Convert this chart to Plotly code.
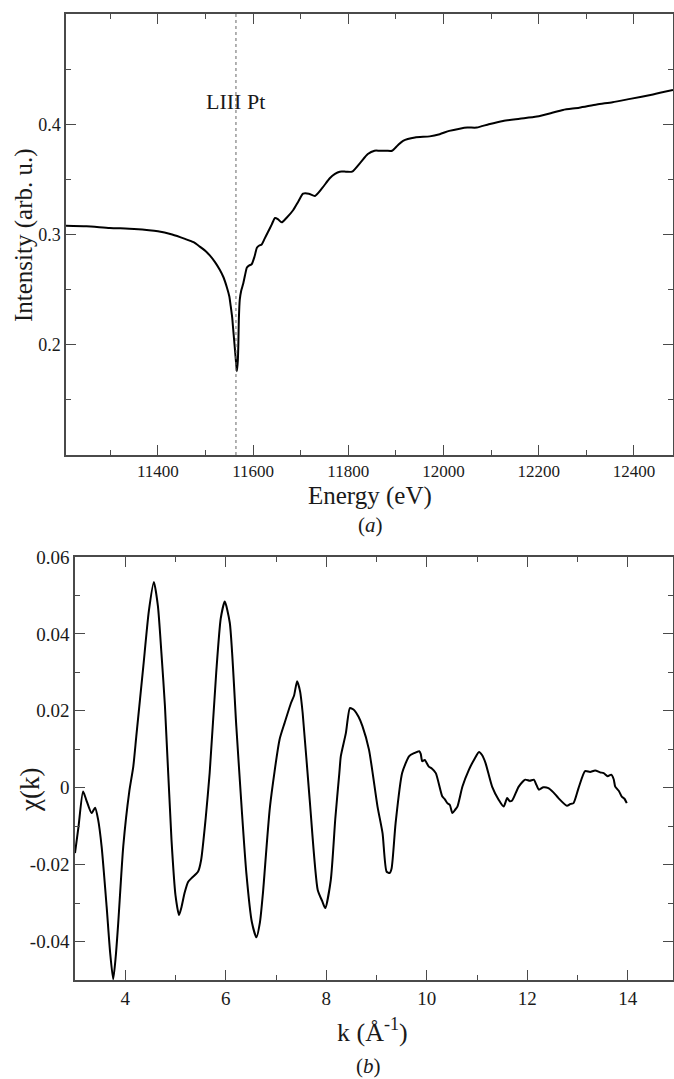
import plotly.graph_objects as go

# ---------------- data ----------------
# Panel (a): XANES spectrum around the Pt L3 edge
energy_eV = [11207, 11250, 11299, 11350, 11400, 11430, 11457, 11475, 11488, 11500,
             11509, 11520, 11530, 11538, 11545, 11550, 11553, 11556, 11558, 11560,
             11562, 11564, 11566, 11568, 11569, 11570, 11572, 11575, 11579, 11583,
             11587, 11592, 11597, 11603, 11608, 11613, 11618, 11624, 11631, 11639,
             11646, 11652, 11660, 11670, 11684, 11695, 11705, 11717, 11730, 11745,
             11761, 11772, 11782, 11795, 11808, 11825, 11841, 11855, 11866, 11880,
             11892, 11904, 11915, 11940, 11971, 11992, 12012, 12034, 12050, 12070,
             12095, 12125, 12160, 12196, 12225, 12251, 12285, 12322, 12355, 12392,
             12440, 12482]
intensity = [0.308, 0.3075, 0.306, 0.305, 0.303, 0.300, 0.296, 0.293, 0.289, 0.285,
             0.281, 0.275, 0.268, 0.261, 0.252, 0.244, 0.235, 0.225, 0.215, 0.205,
             0.195, 0.185, 0.176, 0.186, 0.200, 0.222, 0.241, 0.249, 0.255, 0.263,
             0.270, 0.272, 0.273, 0.280, 0.288, 0.290, 0.291, 0.296, 0.302, 0.309,
             0.315, 0.314, 0.311, 0.315, 0.322, 0.330, 0.337, 0.337, 0.335, 0.342,
             0.351, 0.355, 0.357, 0.357, 0.357, 0.365, 0.373, 0.376, 0.376, 0.376,
             0.376, 0.381, 0.385, 0.388, 0.389, 0.391, 0.394, 0.396, 0.397, 0.397,
             0.400, 0.403, 0.405, 0.407, 0.410, 0.413, 0.415, 0.418, 0.420, 0.423,
             0.427, 0.431]
edge_energy = 11564
edge_label = "LIII Pt"
edge_label_y = 0.421

# Panel (b): EXAFS oscillations chi(k)
k_inv_A = [3.00, 3.07, 3.16, 3.22, 3.33, 3.40, 3.46, 3.53, 3.63, 3.70, 3.76, 3.81,
           3.86, 3.96, 4.08, 4.16, 4.22, 4.36, 4.47, 4.57, 4.65, 4.72, 4.79, 4.92,
           5.00, 5.07, 5.12, 5.18, 5.25, 5.32, 5.45, 5.51, 5.60, 5.68, 5.81, 5.90,
           5.98, 6.08, 6.21, 6.32, 6.41, 6.52, 6.61, 6.68, 6.74, 6.88, 7.07, 7.17,
           7.30, 7.36, 7.42, 7.48, 7.53, 7.67, 7.83, 7.92, 7.98, 8.09, 8.18, 8.26,
           8.29, 8.39, 8.47, 8.52, 8.56, 8.64, 8.72, 8.85, 9.02, 9.12, 9.20, 9.26,
           9.30, 9.38, 9.51, 9.65, 9.75, 9.85, 9.88, 9.91, 9.96, 10.04, 10.10, 10.18,
           10.31, 10.36, 10.41, 10.46, 10.51, 10.56, 10.61, 10.71, 10.84, 10.95, 11.04,
           11.10, 11.17, 11.30, 11.43, 11.53, 11.60, 11.65, 11.70, 11.83, 11.96,
           12.05, 12.13, 12.18, 12.23, 12.32, 12.42, 12.52, 12.62, 12.79, 12.86,
           12.92, 13.02, 13.15, 13.25, 13.35, 13.45, 13.52, 13.60, 13.67, 13.72,
           13.75, 13.82, 13.88, 13.93, 13.98]
chi_k = [-0.0170, -0.0101, -0.0010, -0.0030, -0.0066, -0.0052, -0.0083, -0.0153,
         -0.0310, -0.0430, -0.0498, -0.0440, -0.0352, -0.0153, -0.0010, 0.0055,
         0.0134, 0.0316, 0.0460, 0.0535, 0.0472, 0.0350, 0.0212, -0.0135, -0.0280,
         -0.0331, -0.0310, -0.0274, -0.0245, -0.0235, -0.0218, -0.0188, -0.0080,
         0.0039, 0.0299, 0.0440, 0.0484, 0.0429, 0.0160, -0.0060, -0.0222, -0.0350,
         -0.0389, -0.0350, -0.0274, -0.0049, 0.0125, 0.0168, 0.0221, 0.0240,
         0.0277, 0.0250, 0.0195, -0.0031, -0.0266, -0.0295, -0.0313, -0.0240,
         -0.0080, 0.0038, 0.0082, 0.0142, 0.0207, 0.0205, 0.0201, 0.0185, 0.0160,
         0.0099, -0.0049, -0.0118, -0.0218, -0.0222, -0.0210, -0.0092, 0.0038,
         0.0082, 0.0090, 0.0095, 0.0088, 0.0069, 0.0072, 0.0055, 0.0050, 0.0038,
         -0.0023, -0.0030, -0.0040, -0.0045, -0.0066, -0.0058, -0.0049, 0.0003,
         0.0047, 0.0075, 0.0093, 0.0085, 0.0064, 0.0003, -0.0031, -0.0049, -0.0027,
         -0.0035, -0.0033, 0.0003, 0.0021, 0.0018, 0.0021, 0.0008, -0.0005,
         0.0001, -0.0001, -0.0012, -0.0027, -0.0047, -0.0042, -0.0040, -0.0001,
         0.0043, 0.0041, 0.0045, 0.0040, 0.0038, 0.0030, 0.0034, 0.0022, 0.0003,
         -0.0008, -0.0023, -0.0028, -0.0040]

# tick labels
a_xticks = [11400, 11600, 11800, 12000, 12200, 12400]
a_xticklabels = ["11400", "11600", "11800", "12000", "12200", "12400"]
a_yticks = [0.2, 0.3, 0.4]
a_yticklabels = ["0.2", "0.3", "0.4"]
b_xticks = [4, 6, 8, 10, 12, 14]
b_xticklabels = ["4", "6", "8", "10", "12", "14"]
b_yticks = [0.06, 0.04, 0.02, 0.0, -0.02, -0.04]
b_yticklabels = ["0.06", "0.04", "0.02", "0", "-0.02", "-0.04"]

# ---------------- figure ----------------
W, H = 674, 1079
SERIF = "Liberation Serif"
AX = "#4a4a4a"
TXT = "#1a1a1a"

fig = go.Figure()
fig.add_trace(go.Scatter(x=energy_eV, y=intensity, mode="lines",
                         line=dict(color="black", width=2, shape="spline", smoothing=0.6),
                         xaxis="x", yaxis="y", hoverinfo="skip"))
fig.add_trace(go.Scatter(x=k_inv_A, y=chi_k, mode="lines",
                         line=dict(color="black", width=2, shape="spline", smoothing=0.6),
                         xaxis="x2", yaxis="y2", hoverinfo="skip"))

def axis_style(fs):
    return dict(showgrid=False, zeroline=False, showline=True, linecolor=AX, linewidth=1.5,
                mirror="ticks", ticks="inside", ticklen=10, tickwidth=1.3, tickcolor=AX,
                tickfont=dict(family=SERIF, size=fs, color=TXT))

def minor(dt, t0):
    return dict(ticks="inside", ticklen=5, tickwidth=1.3, tickcolor=AX,
                dtick=dt, tick0=t0, showgrid=False)

fig.update_layout(
    width=W, height=H, margin=dict(l=0, r=0, t=0, b=0, autoexpand=False),
    paper_bgcolor="white", plot_bgcolor="white", showlegend=False,
    font=dict(family=SERIF, size=17, color=TXT),
    xaxis=dict(domain=[66 / W, 673 / W], anchor="y", range=[11207, 12482],
               tickmode="array", tickvals=a_xticks, ticktext=a_xticklabels,
               minor=minor(100, 11200), **axis_style(17)),
    yaxis=dict(domain=[1 - 455 / H, 1 - 14 / H], anchor="x", range=[0.1, 0.5],
               tickmode="array", tickvals=a_yticks, ticktext=a_yticklabels,
               minor=minor(0.05, 0.1), **axis_style(18)),
    xaxis2=dict(domain=[75 / W, 673 / W], anchor="y2", range=[3, 14.9],
                tickmode="array", tickvals=b_xticks, ticktext=b_xticklabels,
                minor=minor(1, 3), **axis_style(19)),
    yaxis2=dict(domain=[1 - 980 / H, 1 - 557 / H], anchor="x2", range=[-0.05, 0.06],
                tickmode="array", tickvals=b_yticks, ticktext=b_yticklabels,
                minor=minor(0.01, 0), **axis_style(19)),
)

# absorption edge marker
fig.add_shape(type="line", xref="x", yref="y domain", x0=edge_energy, x1=edge_energy,
              y0=0, y1=1, line=dict(color="#666", width=1, dash="dot"))
fig.add_annotation(x=edge_energy, y=edge_label_y, xref="x", yref="y", text=edge_label,
                   showarrow=False, font=dict(family=SERIF, size=22, color=TXT))

def ann(text, px, py, size, angle=0):
    fig.add_annotation(x=px / W, y=1 - py / H, xref="paper", yref="paper", text=text,
                       showarrow=False, textangle=angle, xanchor="center", yanchor="middle",
                       font=dict(family=SERIF, size=size, color=TXT))

ann("Intensity (arb. u.)", 24, 235, 25, -90)
ann("Energy (eV)", 370, 496, 25)
ann("(<i>a</i>)", 370, 525, 21)
ann("χ(k)", 30, 790, 27, -90)
ann("k (Å<sup>-1</sup>)", 372, 1030, 26)
ann("(<i>b</i>)", 368, 1066, 21)

fig.write_html("out.html",
               config={"displayModeBar": False},
               post_script="document.body.style.margin='0';"
                           "document.body.style.overflow='hidden';")
